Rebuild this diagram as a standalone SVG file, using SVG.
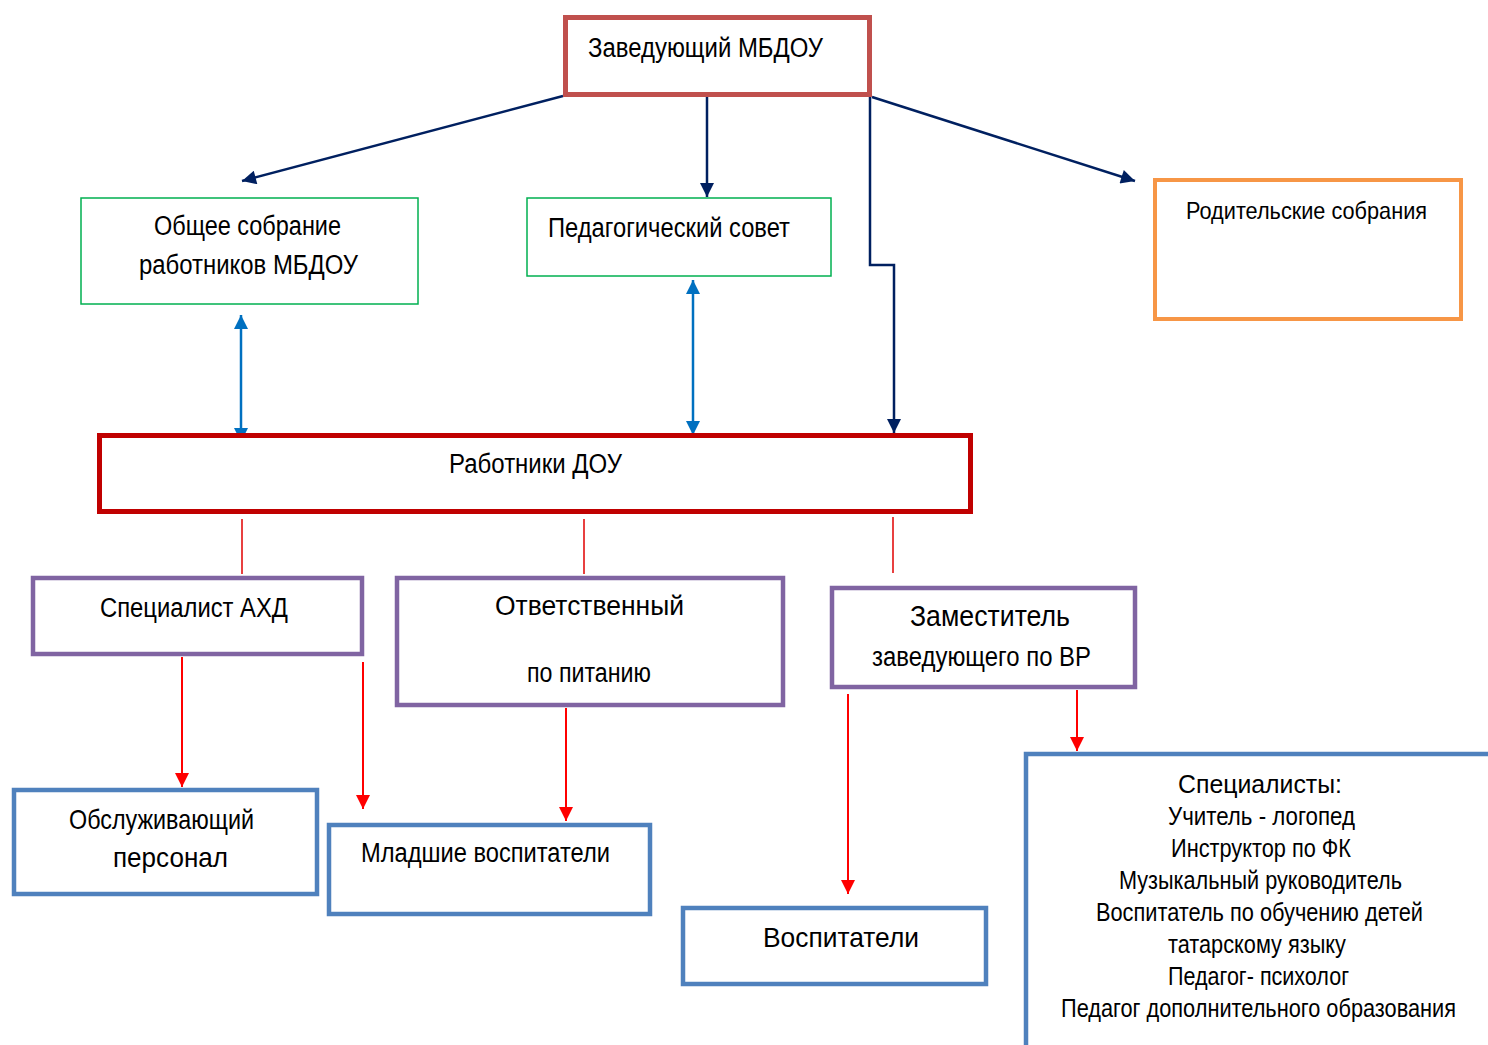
<svg xmlns="http://www.w3.org/2000/svg" width="1488" height="1045" viewBox="0 0 1488 1045">
<style>
text{font-family:"Liberation Sans",Arial,sans-serif;fill:#000;}
.navy{stroke:#002060;stroke-width:2.5;fill:none;}
.blue{stroke:#0070C0;stroke-width:2.5;fill:none;}
.red{stroke:#FF0000;stroke-width:2;fill:none;}
.redt{stroke:#E00000;stroke-width:1.5;fill:none;}
</style>
<defs>
<marker id="an" viewBox="0 0 10 10" refX="10" refY="5" markerUnits="userSpaceOnUse" markerWidth="16" markerHeight="14" orient="auto"><path d="M0,0 L10,5 L0,10 Z" fill="#002060"/></marker>
<marker id="ab" viewBox="0 0 10 10" refX="10" refY="5" markerUnits="userSpaceOnUse" markerWidth="15" markerHeight="14" orient="auto-start-reverse"><path d="M0,0 L10,5 L0,10 Z" fill="#0070C0"/></marker>
<marker id="ar" viewBox="0 0 10 10" refX="10" refY="5" markerUnits="userSpaceOnUse" markerWidth="15" markerHeight="14" orient="auto"><path d="M0,0 L10,5 L0,10 Z" fill="#FF0000"/></marker>
</defs>
<rect width="1488" height="1045" fill="#fff"/>
<g id="connectors">
<line class="navy" x1="563" y1="96" x2="242" y2="181" marker-end="url(#an)"/>
<line class="navy" x1="707" y1="97" x2="707" y2="197" marker-end="url(#an)"/>
<line class="navy" x1="872" y1="97" x2="1135" y2="181" marker-end="url(#an)"/>
<polyline class="navy" points="870,97 870,265 894,265 894,433" marker-end="url(#an)"/>
<line class="blue" x1="241" y1="315" x2="241" y2="442" marker-start="url(#ab)" marker-end="url(#ab)"/>
<line class="blue" x1="693" y1="280" x2="693" y2="435" marker-start="url(#ab)" marker-end="url(#ab)"/>
<line class="redt" x1="242" y1="519" x2="242" y2="574"/>
<line class="redt" x1="584" y1="519" x2="584" y2="574"/>
<line class="redt" x1="893" y1="517" x2="893" y2="573"/>
<line class="red" x1="182" y1="657" x2="182" y2="787" marker-end="url(#ar)"/>
<line class="red" x1="363" y1="662" x2="363" y2="809" marker-end="url(#ar)"/>
<line class="red" x1="566" y1="708" x2="566" y2="821" marker-end="url(#ar)"/>
<line class="red" x1="848" y1="694" x2="848" y2="894" marker-end="url(#ar)"/>
<line class="red" x1="1077" y1="690" x2="1077" y2="751" marker-end="url(#ar)"/>
</g>
<g id="head">
<rect x="565.5" y="17.5" width="304" height="77" fill="#fff" stroke="#C0504D" stroke-width="5"/>
<text x="588" y="57" font-size="27" textLength="235" lengthAdjust="spacingAndGlyphs">Заведующий МБДОУ</text>
</g>
<g id="general">
<rect x="81" y="198" width="337" height="106" fill="#fff" stroke="#00B050" stroke-width="1.5"/>
<text x="154" y="235" font-size="27" textLength="187" lengthAdjust="spacingAndGlyphs">Общее собрание</text>
<text x="139" y="274" font-size="27" textLength="219" lengthAdjust="spacingAndGlyphs">работников МБДОУ</text>
</g>
<g id="council">
<rect x="527" y="198" width="304" height="78" fill="#fff" stroke="#00B050" stroke-width="1.5"/>
<text x="548" y="237" font-size="27" textLength="242" lengthAdjust="spacingAndGlyphs">Педагогический совет</text>
</g>
<g id="parents">
<rect x="1155" y="180" width="306" height="139" fill="#fff" stroke="#F79646" stroke-width="4"/>
<text x="1186" y="219" font-size="24" textLength="241" lengthAdjust="spacingAndGlyphs">Родительские собрания</text>
</g>
<g id="staff">
<rect x="99.5" y="435.5" width="871" height="76" fill="#fff" stroke="#C00000" stroke-width="5"/>
<text x="449" y="473" font-size="27" textLength="173" lengthAdjust="spacingAndGlyphs">Работники ДОУ</text>
</g>
<g id="ahd">
<rect x="33" y="578" width="329" height="76" fill="#fff" stroke="#8064A2" stroke-width="4.5"/>
<text x="100" y="617" font-size="27" textLength="188" lengthAdjust="spacingAndGlyphs">Специалист АХД</text>
</g>
<g id="food">
<rect x="397" y="578" width="386" height="127" fill="#fff" stroke="#8064A2" stroke-width="4.5"/>
<text x="495" y="615" font-size="27" textLength="189" lengthAdjust="spacingAndGlyphs">Ответственный</text>
<text x="527" y="682" font-size="27" textLength="124" lengthAdjust="spacingAndGlyphs">по питанию</text>
</g>
<g id="deputy">
<rect x="832" y="588" width="303" height="99" fill="#fff" stroke="#8064A2" stroke-width="4.5"/>
<text x="910" y="626" font-size="29" textLength="160" lengthAdjust="spacingAndGlyphs">Заместитель</text>
<text x="872" y="666" font-size="27" textLength="219" lengthAdjust="spacingAndGlyphs">заведующего по ВР</text>
</g>
<g id="service">
<rect x="14" y="790" width="303" height="104" fill="#fff" stroke="#4F81BD" stroke-width="4.5"/>
<text x="69" y="829" font-size="28" textLength="185" lengthAdjust="spacingAndGlyphs">Обслуживающий</text>
<text x="113" y="867" font-size="28" textLength="115" lengthAdjust="spacingAndGlyphs">персонал</text>
</g>
<g id="junior">
<rect x="329" y="825" width="321" height="89" fill="#fff" stroke="#4F81BD" stroke-width="4.5"/>
<text x="361" y="862" font-size="27" textLength="249" lengthAdjust="spacingAndGlyphs">Младшие воспитатели</text>
</g>
<g id="educators">
<rect x="683" y="908" width="303" height="76" fill="#fff" stroke="#4F81BD" stroke-width="4.5"/>
<text x="763" y="947" font-size="28" textLength="156" lengthAdjust="spacingAndGlyphs">Воспитатели</text>
</g>
<g id="specialists">
<rect x="1026" y="754" width="470" height="300" fill="#fff" stroke="#4F81BD" stroke-width="4.5"/>
<text x="1178" y="793" font-size="26" textLength="164" lengthAdjust="spacingAndGlyphs">Специалисты:</text>
<text x="1168" y="825" font-size="25" textLength="187" lengthAdjust="spacingAndGlyphs">Учитель - логопед</text>
<text x="1171" y="857" font-size="25" textLength="180" lengthAdjust="spacingAndGlyphs">Инструктор по ФК</text>
<text x="1119" y="889" font-size="25" textLength="283" lengthAdjust="spacingAndGlyphs">Музыкальный руководитель</text>
<text x="1096" y="921" font-size="25" textLength="327" lengthAdjust="spacingAndGlyphs">Воспитатель по обучению детей</text>
<text x="1168" y="953" font-size="25" textLength="178" lengthAdjust="spacingAndGlyphs">татарскому языку</text>
<text x="1168" y="985" font-size="25" textLength="181" lengthAdjust="spacingAndGlyphs">Педагог- психолог</text>
<text x="1061" y="1017" font-size="25" textLength="395" lengthAdjust="spacingAndGlyphs">Педагог дополнительного образования</text>
</g>
</svg>
